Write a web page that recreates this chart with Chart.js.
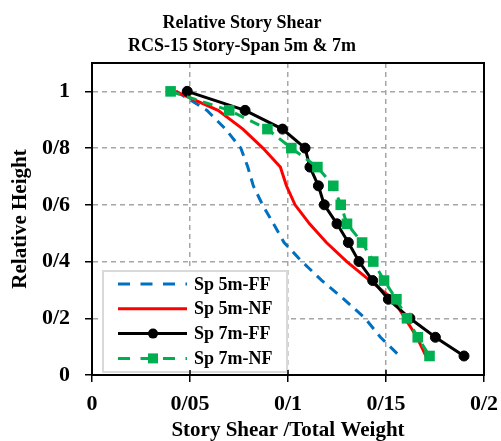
<!DOCTYPE html>
<html>
<head>
<meta charset="utf-8">
<script src="https://cdn.jsdelivr.net/npm/chart.js@4/dist/chart.umd.min.js"></script>
<style>
  html, body { margin: 0; padding: 0; background: #fff; }
  #wrap { width: 501px; height: 441px; }
</style>
</head>
<body>
<div id="wrap"><canvas id="shearChart" width="501" height="441"></canvas></div>
<script>
// Data (relative height vs story shear / total weight)
const seriesLabels = ['Sp 5m-FF', 'Sp 5m-NF', 'Sp 7m-FF', 'Sp 7m-NF'];
const relHeight = [1, 0.933, 0.867, 0.8, 0.733, 0.667, 0.6, 0.533, 0.467, 0.4, 0.333, 0.267, 0.2, 0.133, 0.067];

const sp5FF = [0.043, 0.0587, 0.0681, 0.0759, 0.0795, 0.0823, 0.087, 0.0926, 0.098, 0.1071, 0.1173, 0.1286, 0.1393, 0.1472, 0.1569];
const sp5NF = [0.0425, 0.0643, 0.077, 0.0872, 0.0961, 0.0992, 0.1036, 0.111, 0.1196, 0.13, 0.1418, 0.1536, 0.1597, 0.1658, 0.1704];
const sp7FF = [0.0486, 0.0781, 0.0972, 0.1087, 0.1112, 0.1155, 0.1185, 0.125, 0.1308, 0.1362, 0.1432, 0.1512, 0.1622, 0.1752, 0.1898];
const sp7NF = [0.0401, 0.070, 0.0895, 0.1017, 0.115, 0.1231, 0.1269, 0.1301, 0.1378, 0.1435, 0.149, 0.1553, 0.1607, 0.1662, 0.1722];

const SERIF = '"Liberation Serif", "Times New Roman", serif';
Chart.defaults.font.family = SERIF;
Chart.defaults.font.weight = 'bold';
Chart.defaults.color = '#000';

// decimal point shown as slash, like the original
function slashLabel(v) {
    return Number(v.toFixed(2)).toString().replace('.', '/');
}

function toPoints(xs) {
    return xs.map((x, i) => ({ x: x, y: relHeight[i] }));
}

// Frame on top/right plus short inward tick marks on the x axis
const framePlugin = {
    id: 'frame',
    afterDraw(chart) {
        const { ctx, chartArea: a } = chart;
        ctx.save();
        ctx.strokeStyle = '#000';
        ctx.lineWidth = 2;
        ctx.setLineDash([]);
        ctx.strokeRect(a.left, a.top, a.right - a.left, a.bottom - a.top);
        ctx.lineWidth = 1.5;
        const xs = chart.scales.x;
        xs.ticks.forEach(t => {
            const px = xs.getPixelForValue(t.value);
            ctx.beginPath();
            ctx.moveTo(px, a.bottom);
            ctx.lineTo(px, a.bottom - 5);
            ctx.stroke();
        });
        ctx.restore();
    }
};

// Legend box drawn inside the plot, lower left
const legendBox = {
    id: 'legendBox',
    afterDatasetsDraw(chart) {
        const { ctx, chartArea: a } = chart;
        const x = a.left + 11, y = a.bottom - 104, w = 184, h = 101;
        ctx.save();
        ctx.fillStyle = '#fff';
        ctx.fillRect(x, y, w, h);
        ctx.strokeStyle = '#D9D9D9';
        ctx.lineWidth = 2;
        ctx.strokeRect(x, y, w, h);
        chart.data.datasets.forEach((ds, i) => {
            const cy = y + 13 + i * 24.8;
            ctx.strokeStyle = ds.borderColor;
            ctx.lineWidth = ds.borderWidth;
            ctx.setLineDash(ds.borderDash ? [12, 10.5] : []);
            ctx.beginPath();
            ctx.moveTo(x + 15, cy);
            ctx.lineTo(x + 84, cy);
            ctx.stroke();
            ctx.setLineDash([]);
            if (ds.pointRadius > 0) {
                ctx.fillStyle = ds.pointBackgroundColor;
                if (ds.pointStyle === 'rect') {
                    ctx.fillRect(x + 50 - 5, cy - 5, 10, 10);
                } else {
                    ctx.beginPath();
                    ctx.arc(x + 50, cy, 5, 0, Math.PI * 2);
                    ctx.fill();
                }
            }
            ctx.fillStyle = '#000';
            ctx.font = 'bold 18px ' + SERIF;
            ctx.textBaseline = 'middle';
            ctx.textAlign = 'left';
            ctx.fillText(ds.label, x + 91, cy + 1);
        });
        ctx.restore();
    }
};

const gridStyle = {
    color: (c) => (c.tick && (c.tick.value === 0 || c.tick.value >= 0.2 - 1e-9 && c.scale.axis === 'x')) ? 'rgba(0,0,0,0)' : '#A6A6A6',
    lineWidth: 1.5,
    tickBorderDash: [],
    tickColor: '#000',
    tickWidth: 1.5,
    tickLength: 7
};
const borderStyle = { display: true, color: '#000', width: 2, dash: [5, 4] };

new Chart(document.getElementById('shearChart'), {
    type: 'scatter',
    data: {
        datasets: [
            {
                label: seriesLabels[0],
                data: toPoints(sp5FF),
                showLine: true,
                borderColor: '#0070C0',
                borderWidth: 3,
                borderDash: [10, 7],
                pointRadius: 0,
                order: 3
            },
            {
                label: seriesLabels[1],
                data: toPoints(sp5NF),
                showLine: true,
                borderColor: '#FF0000',
                borderWidth: 3,
                pointRadius: 0,
                order: 2
            },
            {
                label: seriesLabels[2],
                data: toPoints(sp7FF),
                showLine: true,
                borderColor: '#000000',
                borderWidth: 3,
                pointRadius: 5,
                pointStyle: 'circle',
                pointBackgroundColor: '#000000',
                pointBorderColor: '#000000',
                pointBorderWidth: 1,
                order: 1
            },
            {
                label: seriesLabels[3],
                data: toPoints(sp7NF),
                showLine: true,
                borderColor: '#00B050',
                borderWidth: 3,
                borderDash: [10, 7],
                pointRadius: 7.5,
                pointStyle: 'rect',
                pointBackgroundColor: '#00B050',
                pointBorderColor: '#00B050',
                pointBorderWidth: 0,
                order: 0
            }
        ]
    },
    options: {
        responsive: false,
        animation: false,
        layout: { padding: { left: 0, right: 17, top: 0, bottom: 0 } },
        plugins: {
            legend: { display: false },
            tooltip: { enabled: false },
            title: {
                display: true,
                text: ['Relative Story Shear', 'RCS-15 Story-Span 5m & 7m'],
                font: { size: 18, weight: 'bold', lineHeight: '23px' },
                padding: { top: 12, bottom: 5 },
                color: '#000'
            }
        },
        scales: {
            x: {
                type: 'linear',
                min: 0,
                max: 0.2,
                ticks: {
                    stepSize: 0.05,
                    font: { size: 22, weight: 'bold' },
                    padding: 9,
                    color: '#000',
                    callback: (v) => slashLabel(v)
                },
                grid: gridStyle,
                border: borderStyle,
                title: {
                    display: true,
                    text: 'Story Shear /Total Weight',
                    font: { size: 21, weight: 'bold', lineHeight: 1 },
                    padding: { top: 0, bottom: 0 },
                    color: '#000'
                },
                afterFit(s) { s.height = 66; s.paddingLeft = 0; s.paddingRight = 0; }
            },
            y: {
                type: 'linear',
                min: 0,
                max: 1.1,
                ticks: {
                    stepSize: 0.2,
                    includeBounds: false,
                    font: { size: 22, weight: 'bold' },
                    padding: 15,
                    color: '#000',
                    callback: (v) => slashLabel(v)
                },
                grid: gridStyle,
                border: borderStyle,
                title: {
                    display: true,
                    text: 'Relative Height',
                    font: { size: 21, weight: 'bold' },
                    padding: { top: 8, bottom: 0 },
                    color: '#000'
                },
                afterFit(s) { s.width = 92; s.paddingTop = 0; s.paddingBottom = 0; }
            }
        }
    },
    plugins: [legendBox, framePlugin]
});
</script>
</body>
</html>
